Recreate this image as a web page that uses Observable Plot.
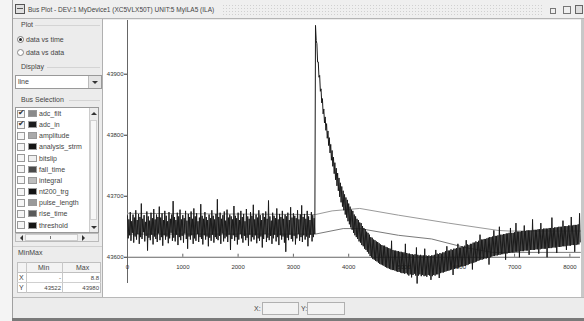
<!DOCTYPE html>
<html><head><meta charset="utf-8">
<script src="https://cdn.jsdelivr.net/npm/d3@7"></script>
<script src="https://cdn.jsdelivr.net/npm/@observablehq/plot@0.6"></script>
<style>
*{box-sizing:border-box}
body{margin:0;width:584px;height:321px;overflow:hidden;background:#f4f4f4;position:relative;font-family:"Liberation Sans",Arial,sans-serif;font-size:7px;color:#444}
.a{position:absolute}
.t{position:absolute;white-space:nowrap;line-height:8px}
#plot{position:absolute;left:103px;top:20px}
</style></head><body>
<div class="a" style="left:12px;top:0;width:572px;height:321px;background:#ececec;border-left:1px solid #a0a0a0"></div>
<div class="a" style="left:13px;top:0;width:571px;height:19px;background:#efefef;border-bottom:1px solid #b4b4b4"></div>
<div class="a" style="left:15px;top:4px;width:10px;height:10px;border:1px solid #555;background:#e0e0e0"></div>
<div class="a" style="left:17px;top:6px;width:6px;height:3px;border-bottom:1px solid #555"></div>
<div class="t" style="left:28px;top:6px;font-size:6.5px;color:#444">Bus Plot - DEV:1 MyDevice1 (XC5VLX50T) UNIT:5 MyILA5 (ILA)</div>
<div class="a" style="left:222px;top:4px;width:322px;height:11px;background-image:radial-gradient(circle,#d0d0d0 0.5px,transparent 0.8px);background-size:3px 3px"></div>
<div class="a" style="left:550px;top:8px;width:6px;height:6px;border:1px solid #777"></div>
<div class="a" style="left:563px;top:6px;width:8px;height:8px;border:1px solid #777"></div>
<div class="a" style="left:575px;top:5px;width:8px;height:9px;border:1px solid #666;background:#ddd"></div>

<div id="panel"></div>

<div class="a" style="left:103px;top:20px;width:478px;height:277px;background:#fff"></div>
<div class="a" style="left:581px;top:19px;width:3px;height:279px;background:#c8c8c8"></div>
<div class="a" style="left:102px;top:19px;width:1px;height:279px;background:#b0b0b0"></div>
<div id="plot"></div>

<div class="a" style="left:13px;top:297px;width:571px;height:1px;background:#b8b8b8"></div>
<div class="t" style="left:254px;top:305px">X:</div>
<div class="a" style="left:262px;top:302px;width:37px;height:13px;border:1px solid #b0b0b0;background:#f2f2f2"></div>
<div class="t" style="left:301px;top:305px">Y:</div>
<div class="a" style="left:307px;top:302px;width:38px;height:13px;border:1px solid #b0b0b0;background:#f2f2f2"></div>
<div class="a" style="left:12px;top:318px;width:572px;height:3px;background:#7a7a7a"></div>

<script>
// ---- data ----
const sampleStep = 12.5;
const adcIn = [
43668,43631,43662,43636,43674,43627,43659,43640,43670,43624,43665,43634,43677,43629,43661,43638,
43671,43622,43666,43633,43688,43630,43663,43641,43669,43626,43658,43635,43675,43611,43667,43632,
43660,43628,43673,43637,43664,43621,43679,43634,43662,43630,43670,43625,43666,43639,43683,43628,
43665,43633,43672,43619,43661,43636,43676,43629,43668,43634,43659,43623,43674,43631,43663,43640,
43670,43627,43692,43632,43666,43626,43661,43637,43673,43620,43667,43633,43678,43628,43662,43635,
43669,43624,43664,43639,43676,43630,43660,43614,43671,43634,43666,43629,43675,43636,43663,43622,
43680,43631,43667,43627,43672,43638,43659,43625,43665,43633,43687,43630,43668,43621,43663,43636,
43674,43629,43666,43634,43661,43618,43670,43632,43664,43627,43677,43637,43668,43624,43662,43633,
43671,43630,43695,43628,43666,43635,43673,43622,43663,43639,43669,43626,43675,43631,43660,43634,
43678,43625,43665,43637,43670,43612,43667,43630,43662,43636,43684,43627,43668,43633,43664,43621,
43673,43629,43661,43638,43676,43631,43666,43624,43671,43635,43659,43628,43679,43632,43667,43619,
43663,43637,43674,43626,43668,43633,43686,43629,43662,43636,43670,43623,43665,43631,43677,43627,
43669,43634,43661,43616,43672,43630,43666,43638,43675,43625,43663,43632,43693,43628,43667,43635,
43660,43622,43673,43631,43668,43637,43664,43626,43680,43633,43662,43620,43671,43636,43666,43629,
43676,43634,43663,43624,43670,43609,43667,43632,43673,43628,43661,43637,43682,43630,43665,43626,
43672,43635,43668,43621,43664,43631,43677,43638,43662,43627,43670,43633,43685,43625,43666,43636,
43671,43629,43663,43634,43676,43618,43667,43632,43661,43637,43674,43626,43669,43633,43664,43638,
43980,43955,43950,43920, 43920,43895,43898,43872, 43876,43853,43860,43835, 43843,43820,43830,43808,
43819,43795,43807,43783, 43796,43771,43785,43759, 43775,43749,43764,43737, 43755,43727,43746,43717,
43738,43709,43730,43699, 43722,43690,43716,43683, 43709,43677,43703,43670, 43698,43665,43694,43659,
43688,43654,43683,43649, 43678,43645,43676,43640, 43670,43636,43667,43633, 43663,43630,43661,43626,
43657,43624,43656,43620, 43651,43618,43648,43614, 43646,43612,43642,43609, 43640,43606,43637,43602,
43633,43600,43632,43597, 43629,43596,43628,43594, 43626,43593,43625,43591, 43623,43589,43621,43588,
43620,43587,43619,43586, 43619,43584,43617,43583, 43616,43582,43615,43581, 43614,43580,43627,43579,
43612,43579,43611,43578, 43611,43577,43610,43576, 43610,43576,43609,43575, 43609,43574,43608,43574,
43608,43573,43622,43574, 43607,43572,43606,43570, 43606,43572,43605,43567, 43605,43571,43604,43573,
43605,43570,43616,43557, 43604,43570,43603,43572, 43604,43569,43603,43571, 43603,43569,43614,43570,
43603,43568,43602,43571, 43603,43570,43602,43563, 43603,43569,43603,43571, 43604,43570,43612,43572,
43606,43572,43605,43566, 43607,43574,43606,43575, 43608,43575,43608,43576, 43610,43577,43618,43578,
43611,43578,43611,43579, 43613,43580,43612,43571, 43614,43581,43614,43582, 43615,43582,43622,43583,
43616,43584,43616,43585, 43618,43585,43617,43586, 43619,43586,43628,43587, 43621,43588,43620,43589,
43622,43590,43622,43580, 43624,43591,43624,43592, 43626,43593,43625,43594, 43627,43595,43637,43596,
43629,43596,43629,43597, 43630,43598,43630,43598, 43631,43599,43632,43588, 43633,43600,43633,43601,
43634,43602,43644,43602, 43635,43603,43635,43603, 43636,43604,43650,43604, 43637,43605,43637,43605,
43638,43606,43638,43596, 43639,43606,43639,43607, 43640,43607,43648,43608, 43640,43608,43640,43608,
43641,43609,43656,43609, 43642,43609,43642,43600, 43642,43610,43643,43610, 43643,43610,43652,43611,
43643,43611,43644,43611, 43644,43604,43644,43612, 43644,43612,43662,43612, 43645,43612,43645,43613,
43645,43613,43646,43606, 43646,43613,43656,43614, 43646,43614,43647,43614, 43647,43614,43647,43600,
43647,43615,43648,43615, 43648,43615,43665,43616, 43648,43616,43649,43616, 43649,43607,43649,43617,
43650,43617,43650,43617, 43650,43618,43660,43618, 43651,43618,43651,43612, 43651,43619,43652,43619,
43652,43619,43666,43620, 43652,43620,43653,43609, 43653,43620,43653,43621, 43654,43621,43672,43625
];
const filtUpperT = [0, 3400, 3700, 4200, 4900, 5800, 6700, 6900, 8191];
const filtUpperV = [43672, 43670, 43676, 43680, 43669, 43656, 43644, 43643, 43643];
const filtLowerT = [0, 3400, 3900, 4200, 4900, 5500, 6100, 6600, 8191];
const filtLowerV = [43638, 43638, 43647, 43647, 43636, 43630, 43616, 43608, 43608];
const yTicks = [43600, 43700, 43800, 43900];
const xTicks = [0, 1000, 2000, 3000, 4000, 5000, 6000, 7000, 8000];

const busNames = ["adc_filt","adc_in","amplitude","analysis_strm","bitslip","fall_time","integral","nt200_trg","pulse_length","rise_time","threshold"];
const busColors = ["#8a8a8a","#1c1c1c","#aaaaaa","#151515","#f0f0f0","#4a4a4a","#bdbdbd","#141414","#9a9a9a","#5a5a5a","#151515"];
const busChecked = [true,true,false,false,false,false,false,false,false,false,false];
const minMaxHeader = ["", "Min", "Max"];
const minMaxRows = [["X", "-", "8.8"], ["Y", "43522", "43980"]];

// ---- panel ----
const P = document.getElementById("panel");
function el(html){ P.insertAdjacentHTML("beforeend", html); }
el('<div class="a" style="left:13px;top:20px;width:89px;height:277px;background:#ececec"></div>');
el('<div class="t" style="left:21px;top:21px">Plot</div>');
el('<div class="a" style="left:35px;top:25px;width:65px;height:1px;background:#d4d4d4"></div>');
el('<div class="a" style="left:17px;top:36px;width:7px;height:7px;border:1px solid #777;border-radius:50%;background:#fff"></div>');
el('<div class="a" style="left:19px;top:38px;width:3px;height:3px;border-radius:50%;background:#222"></div>');
el('<div class="t" style="left:26px;top:36px">data vs time</div>');
el('<div class="a" style="left:17px;top:49px;width:7px;height:7px;border:1px solid #888;border-radius:50%;background:#fff"></div>');
el('<div class="t" style="left:26px;top:49px">data vs data</div>');
el('<div class="t" style="left:21px;top:63px">Display</div>');
el('<div class="a" style="left:47px;top:67px;width:53px;height:1px;background:#d4d4d4"></div>');
el('<div class="a" style="left:15px;top:75px;width:87px;height:14px;border:1px solid #999;background:#fff"></div>');
el('<div class="t" style="left:18px;top:78px">line</div>');
el('<div class="a" style="left:88px;top:76px;width:13px;height:12px;background:#e4e4e4;border-left:1px solid #bbb"></div>');
el('<div class="a" style="left:92px;top:81px;width:0;height:0;border-left:3px solid transparent;border-right:3px solid transparent;border-top:3px solid #333"></div>');
el('<div class="t" style="left:21px;top:96px">Bus Selection</div>');
el('<div class="a" style="left:69px;top:100px;width:31px;height:1px;background:#d4d4d4"></div>');
el('<div class="a" style="left:15px;top:107px;width:84px;height:126px;border:1px solid #999;background:#fff"></div>');
busNames.forEach((n,i)=>{
  const y = 109 + i*11.15;
  el(`<div class="a" style="left:17px;top:${y+0.5}px;width:8px;height:8px;border:1px solid #999;background:#f6f6f6"></div>`);
  if (busChecked[i]) el(`<div class="t" style="left:18px;top:${y}px;font-size:8px;color:#333">&#10004;</div>`);
  el(`<div class="a" style="left:28px;top:${y+1}px;width:9px;height:7px;background:${busColors[i]};border:1px solid #999"></div>`);
  el(`<div class="t" style="left:39px;top:${y+1}px">${n}</div>`);
});
el('<div class="a" style="left:89px;top:108px;width:9px;height:124px;background:#ececec;border-left:1px solid #ccc"></div>');
el('<div class="a" style="left:91px;top:112px;width:0;height:0;border-left:3px solid transparent;border-right:3px solid transparent;border-bottom:3px solid #333"></div>');
el('<div class="a" style="left:91px;top:226px;width:0;height:0;border-left:3px solid transparent;border-right:3px solid transparent;border-top:3px solid #333"></div>');
el('<div class="a" style="left:90px;top:120px;width:7px;height:100px;background:#f7f7f7;border:1px solid #d0d0d0"></div>');
el('<div class="a" style="left:15px;top:233px;width:84px;height:9px;background:#ececec;border:1px solid #bbb"></div>');
el('<div class="a" style="left:20px;top:235px;width:0;height:0;border-top:3px solid transparent;border-bottom:3px solid transparent;border-right:3px solid #333"></div>');
el('<div class="a" style="left:82px;top:235px;width:0;height:0;border-top:3px solid transparent;border-bottom:3px solid transparent;border-left:3px solid #333"></div>');
el('<div class="a" style="left:25px;top:234px;width:53px;height:7px;background:#f7f7f7;border:1px solid #ccc"></div>');
el('<div class="a" style="left:50px;top:236px;width:1px;height:3px;background:#777"></div>');
el('<div class="a" style="left:13px;top:246px;width:89px;height:1px;background:#d0d0d0"></div>');
el('<div class="t" style="left:18px;top:249px">MinMax</div>');
el('<div class="a" style="left:17px;top:262px;width:84px;height:31px;border:1px solid #c0c0c0;background:#fff"></div>');
el('<div class="a" style="left:17px;top:262px;width:84px;height:11px;background:#f3f3f3;border:1px solid #c0c0c0"></div>');
el('<div class="a" style="left:26px;top:262px;width:1px;height:31px;background:#c8c8c8"></div>');
el('<div class="a" style="left:62px;top:262px;width:1px;height:31px;background:#c8c8c8"></div>');
el('<div class="a" style="left:17px;top:282px;width:84px;height:1px;background:#d0d0d0"></div>');
el(`<div class="t" style="left:38px;top:264px">${minMaxHeader[1]}</div>`);
el(`<div class="t" style="left:76px;top:264px">${minMaxHeader[2]}</div>`);
minMaxRows.forEach((r,i)=>{
  const y = 274 + i*10;
  el(`<div class="t" style="left:19px;top:${y}px">${r[0]}</div>`);
  el(`<div class="t" style="left:27px;top:${y}px;width:34px;text-align:right;font-size:6px">${r[1]}</div>`);
  el(`<div class="t" style="left:63px;top:${y}px;width:36px;text-align:right;font-size:6px">${r[2]}</div>`);
});

// ---- chart ----
const sig = adcIn.map((v, i) => ({t: i * sampleStep, v}));
const up = filtUpperT.map((t, i) => ({t, v: filtUpperV[i]}));
const lo = filtLowerT.map((t, i) => ({t, v: filtLowerV[i]}));

const chart = Plot.plot({
  width: 478, height: 277,
  marginLeft: 24, marginRight: 1, marginTop: 0, marginBottom: 14,
  style: {background: "transparent", fontFamily: "Liberation Sans, Arial, sans-serif", fontSize: "6px", color: "#333"},
  x: {domain: [0, 8192], axis: null},
  y: {domain: [43557, 43988], ticks: yTicks, tickSize: 3, tickPadding: 1, tickFormat: d3.format("d"), label: null},
  marks: [
    Plot.ruleX([0], {stroke: "#666"}),
    Plot.ruleY([43600], {stroke: "#666"}),
    Plot.ruleX(xTicks, {x: d => d, y1: 43600, y2: 43605, stroke: "#666"}),
    Plot.text(xTicks, {x: d => d, y: 43600, dy: 10, text: d => String(d), fill: "#333"}),
    Plot.line(up, {x: "t", y: "v", stroke: "#9a9a9a", strokeWidth: 1}),
    Plot.line(lo, {x: "t", y: "v", stroke: "#7a7a7a", strokeWidth: 1}),
    Plot.line(sig, {x: "t", y: "v", stroke: "#1a1a1a", strokeWidth: 1})
  ]
});
document.getElementById("plot").appendChild(chart);
</script>
</body></html>
